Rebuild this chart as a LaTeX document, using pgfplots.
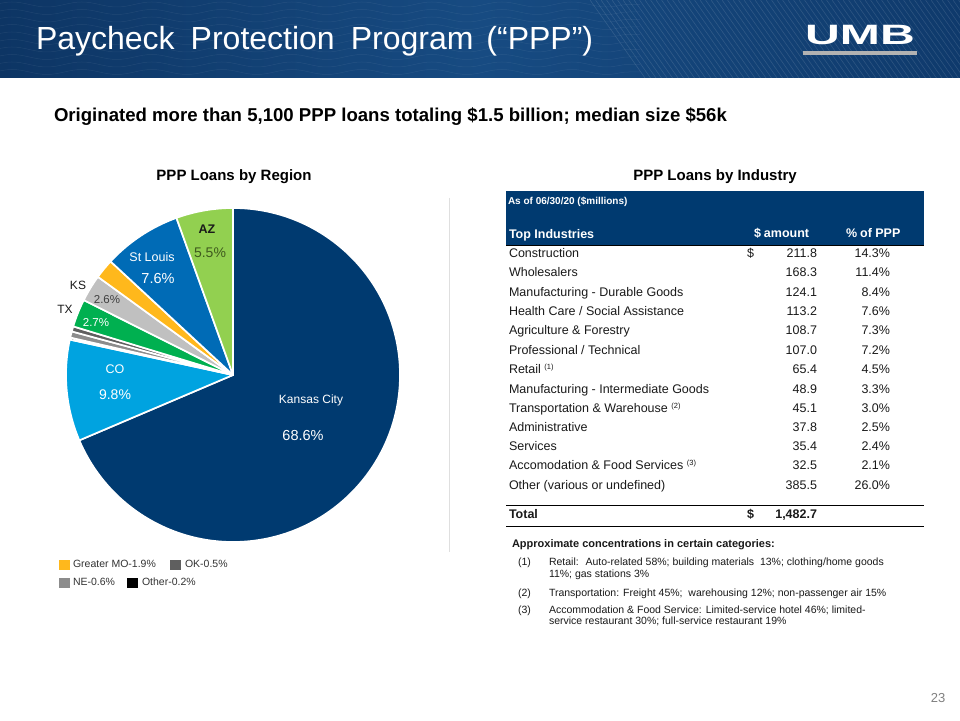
\documentclass[border=0pt]{standalone}
\usepackage{pgfplots}
\pgfplotsset{compat=1.18}
\usepackage{pgfplotstable}
\usepackage{graphicx}
\usepackage{fontspec}
\setmainfont{Liberation Sans}
\usetikzlibrary{decorations.pathmorphing}

\definecolor{kc}{HTML}{003A70}
\definecolor{co}{HTML}{00A3E0}
\definecolor{oth}{HTML}{000000}
\definecolor{ne}{HTML}{8C8C8C}
\definecolor{okc}{HTML}{5F5F5F}
\definecolor{tx}{HTML}{00B050}
\definecolor{ks}{HTML}{C0C0C0}
\definecolor{gmo}{HTML}{FFB81C}
\definecolor{stl}{HTML}{006BB6}
\definecolor{az}{HTML}{92D050}
\definecolor{bandA}{HTML}{0D3564}
\definecolor{bandB}{HTML}{174B82}
\definecolor{bandC}{HTML}{0F3A6C}
\definecolor{hdr}{HTML}{003A70}
\definecolor{txt}{HTML}{1A1A1A}
\definecolor{olive}{HTML}{3F5A1E}

\pgfplotstableread{
region value col
KansasCity 68.6 kc
CO 9.8 co
Other 0.2 oth
NE 0.6 ne
OK 0.5 okc
TX 2.7 tx
KS 2.6 ks
GreaterMO 1.9 gmo
StLouis 7.6 stl
AZ 5.5 az
}\regions

\newcommand{\fs}[1]{\fontsize{#1}{#1}\selectfont}
\newcommand{\fnsup}[1]{\hspace{3.5pt}\raisebox{4.5pt}{\fs{7.5}(#1)}}

\begin{document}
\begin{tikzpicture}[x=1pt,y=1pt,every node/.style={inner sep=0pt,outer sep=0pt}]
% page
\fill[white] (0,0) rectangle (960,720);
% header band
\shade[left color=bandA, right color=bandC, middle color=bandB] (0,642) rectangle (960,720);
\begin{scope}
\clip (0,642) rectangle (960,720);
\foreach \k in {0,...,9}{
  \draw[white,opacity=0.07,line width=0.5pt,decorate,decoration={snake,amplitude=2.5pt,segment length=70pt}] (-10,648+\k*7.5) -- (640,648+\k*7.5);
}
\foreach \k in {0,...,75}{
  \draw[white,opacity=0.12,line width=0.6pt] (590+\k*5.5,720) -- ++(55,-78);
}
\end{scope}
% title
\node[anchor=base west,text=white] at (36,720-50) {\fs{32}Paycheck\hspace{16pt}Protection\hspace{16pt}Program\hspace{13pt}(“PPP”)};
% logo
\node[anchor=base,text=white] at (860,720-45) {\scalebox{1.72}[1]{\fs{28}\bfseries UMB}};
\fill[gray!60] (803,720-55) rectangle (917,720-51);
% subtitle
\node[anchor=base west,text=black] at (54,720-121.5) {\fs{18.6}\bfseries Originated more than 5,100 PPP loans totaling \$1.5 billion; median size \$56k};
% section titles
\node[anchor=base,text=black] at (234,720-181) {\fs{15}\bfseries PPP Loans by Region};
\node[anchor=base,text=black] at (715,720-181) {\fs{15}\bfseries PPP Loans by Industry};
% separator
\draw[gray!25,line width=0.8pt] (449,720-198) -- (449,720-552);

% pie
\begin{axis}[at={(233pt,345pt)},anchor=center,hide axis,scale only axis,
  x=167pt,y=167pt,xmin=-1,xmax=1,ymin=-1,ymax=1,clip=false]
\pgfplotstablegetrowsof{\regions}
\pgfmathtruncatemacro{\lastrow}{\pgfplotsretval-1}
\def\cumang{90}
\pgfplotsforeachungrouped \i in {0,...,\lastrow}{%
  \pgfplotstablegetelem{\i}{value}\of\regions \let\val\pgfplotsretval
  \pgfplotstablegetelem{\i}{col}\of\regions \let\col\pgfplotsretval
  \pgfmathsetmacro{\endang}{\cumang-3.6*\val}%
  \edef\doslice{\noexpand\fill[fill=\col,draw=white,line width=1.7pt,line join=round]
    (axis cs:0,0) -- ++(\cumang:167pt) arc[start angle=\cumang,end angle=\endang,radius=167pt] -- cycle;}%
  \doslice
  \global\let\cumang\endang
}
\end{axis}
% pie labels
\node[text=white] at (311,720-400) {\fs{12}Kansas City};
\node[text=white] at (303,720-436) {\fs{14.5}68.6\%};
\node[text=white] at (115,720-369) {\fs{12.5}CO};
\node[text=white] at (115,720-395) {\fs{14}9.8\%};
\node[text=white] at (152,720-257) {\fs{12.5}St Louis};
\node[text=white] at (158,720-279) {\fs{14.5}7.6\%};
\node[text=txt] at (207,720-229) {\fs{12.5}\bfseries AZ};
\node[text=olive] at (210,720-253) {\fs{14}5.5\%};
\node[text=txt] at (78,720-285) {\fs{12}KS};
\node[text=black!75] at (107,720-300) {\fs{11.5}2.6\%};
\node[text=txt] at (65,720-309) {\fs{12}TX};
\node[text=white] at (96,720-323) {\fs{11.5}2.7\%};
% legend
\fill[gmo] (59,720-570) rectangle (70,720-560);
\node[anchor=mid west,text=black!80] at (73,720-565) {\fs{10.5}Greater MO-1.9\%};
\fill[okc] (170,720-570) rectangle (181,720-560);
\node[anchor=mid west,text=black!80] at (185,720-565) {\fs{10.5}OK-0.5\%};
\fill[ne] (59,720-588) rectangle (70,720-578);
\node[anchor=mid west,text=black!80] at (73,720-583) {\fs{10.5}NE-0.6\%};
\fill[oth] (127,720-588) rectangle (138,720-578);
\node[anchor=mid west,text=black!80] at (142,720-583) {\fs{10.5}Other-0.2\%};

% table header
\fill[hdr] (506,720-191) rectangle (924,720-245);
\draw[black,line width=0.9pt] (506,720-245) -- (924,720-245);
\node[anchor=mid west,text=white] at (508,720-202) {\fs{10}\bfseries As of 06/30/20 (\$millions)};
\node[anchor=mid west,text=white] at (509,720-236) {\fs{12.5}\bfseries Top Industries};
\node[anchor=mid west,text=white] at (754,720-235) {\fs{12.5}\bfseries \$\hspace{3pt}amount};
\node[anchor=mid west,text=white] at (846,720-235) {\fs{12.5}\bfseries \%\hspace{3pt}of PPP};
% table rows
\newcommand{\trow}[4]{%
  \node[anchor=mid west,text=txt] at (509,720-#1) {\fs{12.5}#2};
  \node[anchor=mid east,text=txt] at (817,720-#1) {\fs{12.5}#3};
  \node[anchor=mid east,text=txt] at (890,720-#1) {\fs{12.5}#4};}
\node[anchor=mid west,text=txt] at (747,720-255) {\fs{12.5}\$};
\trow{255}{Construction}{211.8}{14.3\%}
\trow{274}{Wholesalers}{168.3}{11.4\%}
\trow{294}{Manufacturing - Durable Goods}{124.1}{8.4\%}
\trow{313}{Health Care / Social Assistance}{113.2}{7.6\%}
\trow{332}{Agriculture \& Forestry}{108.7}{7.3\%}
\trow{352}{Professional / Technical}{107.0}{7.2\%}
\trow{371}{Retail\fnsup{1}}{65.4}{4.5\%}
\trow{391}{Manufacturing - Intermediate Goods}{48.9}{3.3\%}
\trow{410}{Transportation \& Warehouse\fnsup{2}}{45.1}{3.0\%}
\trow{429}{Administrative}{37.8}{2.5\%}
\trow{448}{Services}{35.4}{2.4\%}
\trow{467}{Accomodation \& Food Services\fnsup{3}}{32.5}{2.1\%}
\trow{487}{Other (various or undefined)}{385.5}{26.0\%}
\draw[black,line width=0.9pt] (506,720-505) -- (924,720-505);
\node[anchor=mid west,text=txt] at (509,720-516) {\fs{12.5}\bfseries Total};
\node[anchor=mid west,text=txt] at (747,720-516) {\fs{12.5}\bfseries \$};
\node[anchor=mid east,text=txt] at (817,720-516) {\fs{12.5}\bfseries 1,482.7};
\draw[black,line width=0.9pt] (506,720-526) -- (924,720-526);

% footnotes
\node[anchor=mid west,text=txt] at (512,720-545) {\fs{11}\bfseries Approximate concentrations in certain categories:};
\newcommand{\fn}[2]{\node[anchor=mid west,text=txt] at (549,720-#1) {\fs{10.5}#2};}
\node[anchor=mid west,text=txt] at (518,720-563) {\fs{10.5}(1)};
\fn{563}{Retail: \ Auto-related 58\%; building materials \ 13\%; clothing/home goods}
\fn{574.5}{11\%; gas stations 3\%}
\node[anchor=mid west,text=txt] at (518,720-593.5) {\fs{10.5}(2)};
\fn{593.5}{Transportation: Freight 45\%; \ warehousing 12\%; non-passenger air 15\%}
\node[anchor=mid west,text=txt] at (518,720-610.5) {\fs{10.5}(3)};
\fn{610.5}{Accommodation \& Food Service: Limited-service hotel 46\%; limited-}
\fn{621.5}{service restaurant 30\%; full-service restaurant 19\%}
% page number
\node[anchor=mid,text=gray] at (938,720-700) {\fs{13}23};
\end{tikzpicture}
\end{document}
